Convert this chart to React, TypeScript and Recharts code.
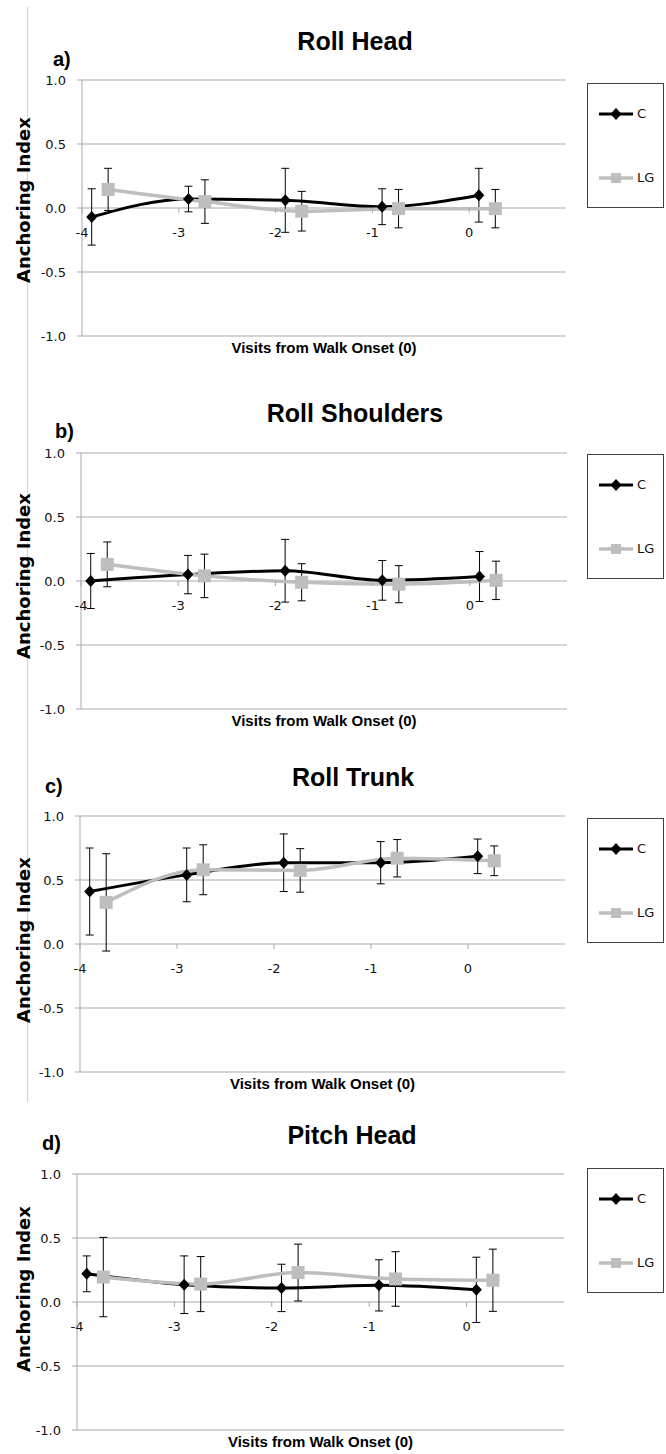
import React from 'react';
import { LineChart, Line, XAxis, YAxis, CartesianGrid, ErrorBar } from 'recharts';

// x positions (groups are nudged so the error bars don't overlap)
const visitTicks = [-4, -3, -2, -1, 0];
const anchorTicks = [-1, -0.5, 0, 0.5, 1];
const visitsC = [-3.9, -2.9, -1.9, -0.9, 0.1];
const visitsLG = [-3.73, -2.73, -1.73, -0.73, 0.27];

const panelLetters = ['a)', 'b)', 'c)', 'd)'];
const panelTitles = ['Roll Head', 'Roll Shoulders', 'Roll Trunk', 'Pitch Head'];
const seriesNames = ['C', 'LG'];

const rollHeadC = [-0.07, 0.07, 0.06, 0.01, 0.1];
const rollHeadCErr = [0.22, 0.1, 0.25, 0.14, 0.21];
const rollHeadLG = [0.145, 0.05, -0.025, -0.005, -0.005];
const rollHeadLGErr = [0.165, 0.17, 0.155, 0.15, 0.15];

const rollShouldersC = [0.0, 0.05, 0.08, 0.005, 0.035];
const rollShouldersCErr = [0.215, 0.15, 0.245, 0.155, 0.195];
const rollShouldersLG = [0.13, 0.04, -0.01, -0.025, 0.005];
const rollShouldersLGErr = [0.175, 0.17, 0.145, 0.145, 0.15];

const rollTrunkC = [0.41, 0.54, 0.635, 0.635, 0.685];
const rollTrunkCErr = [0.34, 0.21, 0.225, 0.165, 0.135];
const rollTrunkLG = [0.325, 0.58, 0.575, 0.67, 0.65];
const rollTrunkLGErr = [0.38, 0.195, 0.17, 0.146, 0.116];

const pitchHeadC = [0.22, 0.135, 0.11, 0.13, 0.095];
const pitchHeadCErr = [0.14, 0.225, 0.185, 0.2, 0.255];
const pitchHeadLG = [0.195, 0.14, 0.23, 0.18, 0.17];
const pitchHeadLGErr = [0.31, 0.215, 0.222, 0.213, 0.243];

const makeSeries = (xs: number[], ys: number[], errs: number[]) =>
  xs.map((x, i) => ({ x, y: ys[i], err: errs[i] }));

const panels = [
  { c: makeSeries(visitsC, rollHeadC, rollHeadCErr), lg: makeSeries(visitsLG, rollHeadLG, rollHeadLGErr) },
  { c: makeSeries(visitsC, rollShouldersC, rollShouldersCErr), lg: makeSeries(visitsLG, rollShouldersLG, rollShouldersLGErr) },
  { c: makeSeries(visitsC, rollTrunkC, rollTrunkCErr), lg: makeSeries(visitsLG, rollTrunkLG, rollTrunkLGErr) },
  { c: makeSeries(visitsC, pitchHeadC, pitchHeadCErr), lg: makeSeries(visitsLG, pitchHeadLG, pitchHeadLGErr) },
];

// page placement of each panel
const layout = [
  { top: 0, left: 82, right: 566, titleX: 355, titleY: 41, letterX: 53, letterY: 59, legendTop: 83, yLabelY: 200 },
  { top: 373, left: 81, right: 567, titleX: 355, titleY: 40, letterX: 55, letterY: 58, legendTop: 81, yLabelY: 203 },
  { top: 736, left: 80, right: 565, titleX: 353, titleY: 41, letterX: 45, letterY: 50, legendTop: 82, yLabelY: 204 },
  { top: 1094, left: 77, right: 564, titleX: 352, titleY: 41, letterX: 42, letterY: 49, legendTop: 74, yLabelY: 195 },
];

const W = 666;
const CHART_H = 358;
const PLOT_TOP = 80;
const PLOT_H = 256;
const GRID = '#a9a9a9';
const LG_GREY = '#bebebe';
const SANS = '"DejaVu Sans", sans-serif';
const BOLD = '"Liberation Sans", Arial, sans-serif';

const Diamond = ({ cx, cy }: any) => (
  <polygon points={`${cx},${cy - 6} ${cx + 5.5},${cy} ${cx},${cy + 6} ${cx - 5.5},${cy}`} fill="#000" />
);
const Square = ({ cx, cy }: any) => (
  <rect x={cx - 6.5} y={cy - 6.5} width={13} height={13} fill={LG_GREY} />
);

// x axis crosses at y = 0, so ticks are drawn half a plot up from the bottom
const XTick = (props: any) => {
  const { x, y, payload } = props;
  const zeroY = y - PLOT_H / 2;
  return (
    <g>
      <line x1={x} x2={x} y1={zeroY} y2={zeroY + 5} stroke={GRID} />
      <text x={x} y={zeroY + 29} textAnchor="middle" fill="#111" fontSize={13} fontFamily={SANS}>
        {payload.value}
      </text>
    </g>
  );
};

const LegendBox = ({ top }: { top: number }) => (
  <div
    style={{
      position: 'absolute', left: 587, top, width: 77, height: 125,
      border: '1px solid #404040', background: '#fff', boxSizing: 'border-box',
    }}
  >
    {seriesNames.map((name, i) => (
      <div key={name} style={{ position: 'absolute', left: 11, top: i === 0 ? 30 : 94, height: 0 }}>
        <svg width={36} height={16} style={{ position: 'absolute', left: 0, top: -8 }}>
          <line x1={0} x2={34} y1={8} y2={8} stroke={i === 0 ? '#000' : LG_GREY} strokeWidth={i === 0 ? 3 : 3.5} />
          {i === 0 ? <Diamond cx={17} cy={8} /> : <rect x={12} y={3} width={10} height={10} fill={LG_GREY} />}
        </svg>
        <span
          style={{
            position: 'absolute', left: 38, top: -9, fontSize: 13, fontFamily: SANS,
            color: '#111', lineHeight: '18px',
          }}
        >
          {name}
        </span>
      </div>
    ))}
  </div>
);

const Panel = ({ idx }: { idx: number }) => {
  const L = layout[idx];
  const P = panels[idx];
  return (
    <div style={{ position: 'absolute', left: 0, top: L.top, width: W, height: CHART_H }}>
      <LineChart
        width={W}
        height={CHART_H}
        margin={{ top: PLOT_TOP, right: W - L.right, left: 0, bottom: 0 }}
      >
        <CartesianGrid vertical={false} stroke={GRID} />
        <XAxis
          type="number"
          dataKey="x"
          domain={[-4, 1]}
          ticks={visitTicks}
          allowDataOverflow
          axisLine={false}
          tickLine={false}
          tickSize={0}
          tickMargin={0}
          height={CHART_H - PLOT_TOP - PLOT_H}
          tick={<XTick />}
          label={{
            value: 'Visits from Walk Onset (0)', position: 'insideBottom', offset: 5,
            fill: '#000', fontSize: 15, fontWeight: 'bold', fontFamily: BOLD,
          }}
        />
        <YAxis
          type="number"
          domain={[-1, 1]}
          ticks={anchorTicks}
          allowDataOverflow
          width={L.left}
          axisLine={{ stroke: GRID }}
          tickLine={{ stroke: GRID }}
          tickSize={5}
          tickMargin={11}
          tickFormatter={(v: number) => v.toFixed(1)}
          tick={{ fill: '#111', fontSize: 13, fontFamily: SANS }}
        />
        <Line
          data={P.c}
          dataKey="y"
          name="C"
          type="monotone"
          stroke="#000"
          strokeWidth={3}
          dot={(p: any) => <Diamond key={`c-${p.index}`} cx={p.cx} cy={p.cy} />}
          activeDot={false}
          isAnimationActive={false}
        >
          <ErrorBar dataKey="err" direction="y" width={4} stroke="#000" strokeWidth={1} />
        </Line>
        <Line
          data={P.lg}
          dataKey="y"
          name="LG"
          type="monotone"
          stroke={LG_GREY}
          strokeWidth={3.5}
          dot={(p: any) => <Square key={`lg-${p.index}`} cx={p.cx} cy={p.cy} />}
          activeDot={false}
          isAnimationActive={false}
        >
          <ErrorBar dataKey="err" direction="y" width={4} stroke="#000" strokeWidth={1} />
        </Line>
      </LineChart>

      <div
        style={{
          position: 'absolute', left: L.titleX, top: L.titleY, transform: 'translate(-50%, -50%)',
          fontFamily: BOLD, fontWeight: 'bold', fontSize: 25, whiteSpace: 'nowrap', color: '#000',
        }}
      >
        {panelTitles[idx]}
      </div>
      <div
        style={{
          position: 'absolute', left: L.letterX, top: L.letterY, transform: 'translateY(-50%)',
          fontFamily: BOLD, fontWeight: 'bold', fontSize: 20, color: '#000',
        }}
      >
        {panelLetters[idx]}
      </div>
      <div
        style={{
          position: 'absolute', left: 23, top: L.yLabelY, transform: 'translate(-50%, -50%) rotate(-90deg)',
          fontFamily: '"DejaVu Sans", sans-serif', fontWeight: 'bold', fontSize: 18, whiteSpace: 'nowrap',
          color: '#000',
        }}
      >
        Anchoring Index
      </div>
      <LegendBox top={L.legendTop} />
    </div>
  );
};

export default function App() {
  return (
    <div style={{ position: 'absolute', left: 0, top: 0, width: W, height: 1454, background: '#fff', overflow: 'hidden' }}>
      <div style={{ position: 'absolute', left: 27, top: 7, width: 1, height: 1095, background: '#d2d2d2' }} />
      {panels.map((_, i) => (
        <Panel key={i} idx={i} />
      ))}
    </div>
  );
}
